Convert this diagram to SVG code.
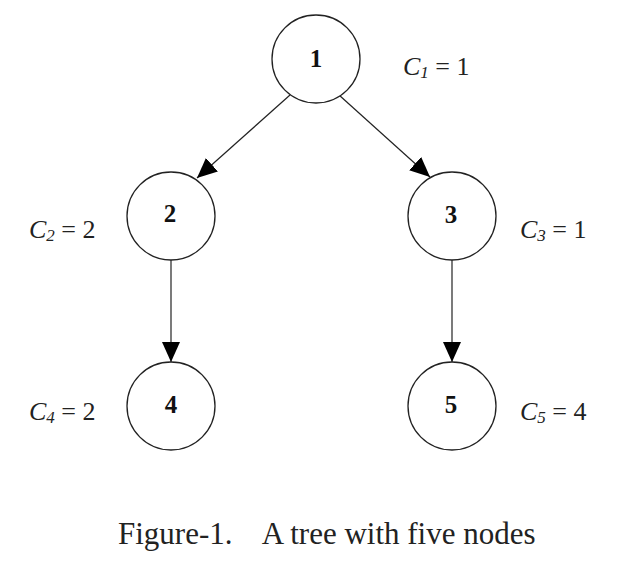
<svg xmlns="http://www.w3.org/2000/svg" width="629" height="561" viewBox="0 0 629 561">
<style>
.node{fill:#fff;stroke:#222;stroke-width:1.3}
.num{font-family:"Liberation Serif",serif;font-weight:bold;font-size:25px;text-anchor:middle;fill:#111}
.lab{font-family:"Liberation Serif",serif;font-size:26px;fill:#222}
.sub{font-style:italic;font-size:17px}
.edge{stroke:#222;stroke-width:1.2;fill:none;marker-end:url(#ah)}
.cap{font-family:"Liberation Serif",serif;font-size:31px;fill:#222}
</style>
<defs>
<marker id="ah" markerUnits="userSpaceOnUse" markerWidth="20" markerHeight="18" refX="20" refY="9" orient="auto">
<path d="M0,0 L20,9 L0,18 z" fill="#000"/>
</marker>
</defs>
<rect width="629" height="561" fill="#fff"/>
<g id="connectors">
<line class="edge" x1="290" y1="95" x2="197" y2="178"/>
<line class="edge" x1="339" y1="95" x2="430" y2="177"/>
<line class="edge" x1="171" y1="260" x2="171" y2="362"/>
<line class="edge" x1="452" y1="260" x2="452" y2="362"/>
</g>
<g id="node1"><circle class="node" cx="316" cy="59" r="44"/><text class="num" x="316" y="67">1</text></g>
<g id="node2"><circle class="node" cx="171" cy="216" r="44"/><text class="num" x="170" y="222">2</text></g>
<g id="node3"><circle class="node" cx="452" cy="216" r="44"/><text class="num" x="451" y="223">3</text></g>
<g id="node4"><circle class="node" cx="171" cy="406" r="44"/><text class="num" x="171" y="413">4</text></g>
<g id="node5"><circle class="node" cx="452" cy="406" r="44"/><text class="num" x="451" y="413">5</text></g>
<g id="labels">
<text class="lab" x="403" y="75"><tspan font-style="italic">C</tspan><tspan class="sub" dy="3">1</tspan><tspan dy="-3"> = 1</tspan></text>
<text class="lab" x="29" y="238"><tspan font-style="italic">C</tspan><tspan class="sub" dy="3">2</tspan><tspan dy="-3"> = 2</tspan></text>
<text class="lab" x="520" y="238"><tspan font-style="italic">C</tspan><tspan class="sub" dy="3">3</tspan><tspan dy="-3"> = 1</tspan></text>
<text class="lab" x="29" y="420"><tspan font-style="italic">C</tspan><tspan class="sub" dy="3">4</tspan><tspan dy="-3"> = 2</tspan></text>
<text class="lab" x="520" y="420"><tspan font-style="italic">C</tspan><tspan class="sub" dy="3">5</tspan><tspan dy="-3"> = 4</tspan></text>
</g>
<text class="cap" x="118" y="544" xml:space="preserve">Figure-1.    A tree with five nodes</text>
</svg>
